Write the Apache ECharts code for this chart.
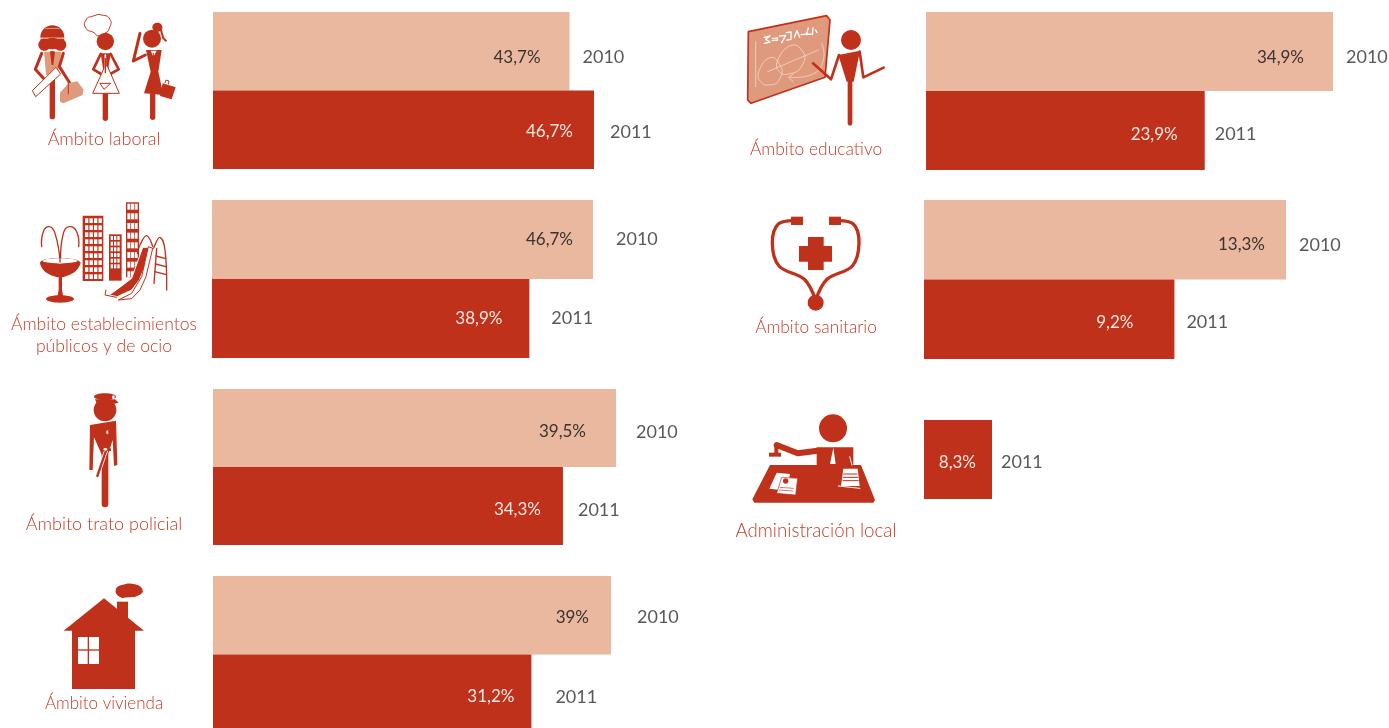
<!DOCTYPE html>
<html>
<head>
<meta charset="utf-8">
<title>Ámbitos</title>
<script src="https://cdn.jsdelivr.net/npm/echarts@6/dist/echarts.min.js"></script>
<style>
  html, body { margin: 0; padding: 0; background: #fff; }
  #chart { width: 1389px; height: 728px; }
</style>
</head>
<body>
<div id="chart"></div>
<script>
// datos
var years = ['2010', '2011'];
var yearsLocal = ['2011'];
var laboral = [43.7, 46.7];
var establecimientos = [46.7, 38.9];
var policial = [39.5, 34.3];
var vivienda = [39, 31.2];
var educativo = [34.9, 23.9];
var sanitario = [13.3, 9.2];
var local = [8.3];
var names = [
  'Ámbito laboral',
  'Ámbito establecimientos\npúblicos y de ocio',
  'Ámbito trato policial',
  'Ámbito vivienda',
  'Ámbito educativo',
  'Ámbito sanitario',
  'Administración local'
];

var DARK = '#BF311A';
var LIGHT = '#EAB79F';
var MID = '#DF9A7D';
var FONT = 'Lato';

// x,y,w,h del grid; inset = hueco del valor al final de la barra; gap = hueco del año; dy = ajuste vertical
var panels = [
  { cats: years, vals: laboral, x: 213, y: 12, w: 381, h: 157, inset: [29, 21], gap: [13, 16], dy: [6, 2], nx: 104, ny: 139, ns: 18 },
  { cats: years, vals: establecimientos, x: 212, y: 200, w: 381, h: 158, inset: [20, 27], gap: [23, 22], dy: [0, 0], nx: 104, ny: 335, ns: 17.6 },
  { cats: years, vals: policial, x: 213, y: 389, w: 403, h: 156, inset: [30, 22], gap: [20, 15], dy: [4, 4], nx: 104, ny: 524, ns: 18 },
  { cats: years, vals: vivienda, x: 213, y: 576, w: 398, h: 157, inset: [22, 17], gap: [26, 24], dy: [2, 3], nx: 104, ny: 704, ns: 17 },
  { cats: years, vals: educativo, x: 926, y: 12, w: 407, h: 158, inset: [29, 27], gap: [13, 10], dy: [6, 4], nx: 816, ny: 149, ns: 17.4 },
  { cats: years, vals: sanitario, x: 924, y: 200, w: 362, h: 159, inset: [21, 41], gap: [13, 12], dy: [5, 3], nx: 816, ny: 327, ns: 17.3 },
  { cats: yearsLocal, vals: local, x: 924, y: 420, w: 68, h: 79, inset: [16], gap: [9], dy: [3], nx: 816, ny: 531, ns: 18.7 }
];

function pct(v) {
  return String(v).replace('.', ',') + '%';
}

var grids = [], xAxes = [], yAxes = [], series = [], graphics = [];

for (var i = 0; i < panels.length; i++) {
  var p = panels[i];
  grids.push({ left: p.x, top: p.y, width: p.w, height: p.h, outerBoundsMode: 'none' });
  xAxes.push({ gridIndex: i, type: 'value', min: 0, max: Math.max.apply(null, p.vals), show: false });
  yAxes.push({ gridIndex: i, type: 'category', data: p.cats, inverse: true, show: false });

  var barData = [], yearData = [];
  for (var j = 0; j < p.vals.length; j++) {
    var dark = p.cats[j] === '2011';
    barData.push({
      value: p.vals[j],
      itemStyle: { color: dark ? DARK : LIGHT },
      label: {
        show: true,
        position: 'insideRight',
        distance: p.inset[j],
        offset: [0, p.dy[j]],
        formatter: pct(p.vals[j]),
        color: dark ? '#FBE9E2' : '#3A3330',
        fontFamily: FONT,
        fontSize: 17
      }
    });
    yearData.push({
      value: [p.vals[j], j],
      label: {
        show: true,
        position: 'right',
        distance: p.gap[j],
        offset: [0, p.dy[j]],
        formatter: p.cats[j],
        color: '#2E2E2E',
        fontFamily: FONT,
        fontSize: 18
      }
    });
  }
  series.push({
    type: 'bar',
    xAxisIndex: i,
    yAxisIndex: i,
    barWidth: '100%',
    silent: true,
    data: barData
  });
  series.push({
    type: 'scatter',
    xAxisIndex: i,
    yAxisIndex: i,
    symbolSize: 0,
    silent: true,
    data: yearData
  });
  graphics.push({
    type: 'text',
    x: p.nx,
    y: p.ny,
    style: {
      text: names[i],
      fill: '#C43B26',
      font: '300 ' + p.ns + 'px ' + FONT,
      textAlign: 'center',
      textVerticalAlign: 'middle',
      lineHeight: 22
    }
  });
}

// ---- iconos ----
function line(pts, w, color, smooth) {
  return {
    type: 'polyline',
    shape: { points: pts, smooth: smooth || 0 },
    style: { stroke: color || DARK, lineWidth: w, fill: null, lineCap: 'round', lineJoin: 'round' }
  };
}
function poly(pts, fill, stroke, w, smooth) {
  return {
    type: 'polygon',
    shape: { points: pts, smooth: smooth || 0 },
    style: { fill: fill || DARK, stroke: stroke || null, lineWidth: w || 0, lineJoin: 'round' }
  };
}
function circle(cx, cy, r, fill) {
  return { type: 'circle', shape: { cx: cx, cy: cy, r: r }, style: { fill: fill || DARK } };
}
function ell(cx, cy, rx, ry, fill, stroke, w) {
  return {
    type: 'ellipse',
    shape: { cx: cx, cy: cy, rx: rx, ry: ry },
    style: { fill: fill || DARK, stroke: stroke || null, lineWidth: w || 0 }
  };
}
function box(x, y, w, h, fill) {
  return { type: 'rect', shape: { x: x, y: y, width: w, height: h }, style: { fill: fill || DARK } };
}
// los iconos se dibujan en las coordenadas del recorte x3
function icon(ox, oy, children) {
  graphics.push({ type: 'group', x: ox, y: oy, scaleX: 1 / 3, scaleY: 1 / 3, silent: true, children: children });
}

function windows(list, x0, y0, cols, rows, cw, ch, dx, dy) {
  for (var r = 0; r < rows; r++) {
    for (var c = 0; c < cols; c++) {
      list.push(box(x0 + c * dx, y0 + r * dy, cw, ch, '#fff'));
    }
  }
}

// laboral
icon(0, 0, [
  // obrero
  line([[157, 160], [157, 350]], 16),
  poly([[132, 155], [185, 155], [172, 225], [138, 225]], MID),
  poly([[150, 155], [165, 155], [160, 195], [155, 195]], DARK),
  line([[125, 160], [106, 208], [135, 240]], 9),
  line([[190, 160], [178, 200], [213, 255]], 9),
  ell(157, 112, 36, 36),
  box(135, 84, 44, 2, '#EAB79F'),
  box(120, 113, 76, 3, '#fff'),
  ell(133, 134, 18, 18),
  ell(181, 134, 18, 18),
  ell(157, 130, 32, 16),
  poly([[97, 272], [168, 202], [182, 222], [107, 290]], '#fff', DARK, 3),
  poly([[180, 278], [205, 250], [232, 244], [250, 268], [248, 285], [190, 310], [180, 305]], MID),
  line([[205, 250], [205, 282]], 3, DARK),
  // cocinera
  line([[316, 280], [316, 355]], 16),
  poly([[282, 98], [258, 85], [258, 60], [280, 48], [305, 45], [330, 58], [328, 85], [315, 100], [295, 108]], '#fff', DARK, 3, 0.6),
  circle(316, 124, 26),
  poly([[302, 160], [332, 160], [322, 225], [312, 225]], DARK),
  line([[302, 162], [280, 208], [308, 225]], 8),
  line([[332, 162], [356, 208], [325, 225]], 8),
  poly([[315, 198], [278, 280], [358, 280], [322, 198]], '#fff', DARK, 3),
  line([[300, 250], [312, 268], [332, 250], [300, 250]], 3),
  line([[316, 165], [316, 222]], 5, '#fff'),
  line([[316, 175], [316, 218]], 4, DARK),
  // ejecutiva
  line([[458, 285], [458, 352]], 16),
  circle(456, 116, 27),
  ell(472, 82, 15, 14),
  line([[482, 88], [490, 115], [498, 122]], 6),
  line([[420, 100], [400, 183], [436, 165]], 9),
  poly([[438, 150], [485, 150], [475, 215], [490, 285], [432, 280], [452, 215]], DARK),
  poly([[452, 152], [470, 152], [460, 170]], '#fff'),
  line([[460, 160], [460, 190]], 3, DARK),
  poly([[488, 250], [527, 262], [515, 298], [480, 288]], DARK),
  line([[495, 248], [498, 240], [507, 243], [505, 252]], 3)
]);

// establecimientos
var est = [
  // fuente
  line([[180, 212], [165, 130], [148, 110], [130, 125], [125, 170]], 4, DARK, 0.5),
  line([[182, 212], [190, 130], [208, 110], [230, 125], [236, 170]], 4, DARK, 0.5),
  poly([[122, 215], [135, 245], [180, 262], [225, 245], [240, 215]], DARK, null, 0, 0.3),
  ell(180, 216, 58, 12, DARK),
  ell(180, 213, 52, 8, '#fff'),
  poly([[130, 216], [180, 222], [232, 216], [225, 228], [135, 228]], DARK),
  line([[180, 195], [180, 216]], 4, DARK),
  poly([[176, 258], [186, 258], [186, 300], [190, 322], [172, 322], [176, 300]], DARK),
  ell(180, 327, 42, 11),
  // edificios
  box(248, 77, 62, 196)
];
windows(est, 255, 85, 4, 9, 10, 14, 13.5, 21);
est.push(box(327, 133, 38, 139));
windows(est, 332, 138, 3, 6, 7, 12, 10, 17);
est.push(box(378, 37, 39, 225));
for (var b = 0; b < 8; b++) {
  est.push(box(382, 41 + b * 29, 9, 18, '#fff'));
  est.push(box(393, 41 + b * 29, 9, 18, '#fff'));
  est.push(box(404, 41 + b * 29, 9, 18, '#fff'));
}
est.push(
  // tobogan
  line([[460, 175], [440, 137], [420, 165], [412, 190]], 4, DARK, 0.4),
  line([[462, 172], [480, 142], [495, 180], [500, 300]], 4, DARK, 0.4),
  line([[470, 175], [462, 280]], 4),
  line([[468, 198], [497, 206]], 4),
  line([[466, 222], [498, 230]], 4),
  line([[464, 245], [499, 254]], 4),
  poly([[428, 172], [458, 172], [418, 270], [395, 300], [352, 320], [328, 315], [365, 288], [395, 265]], DARK, '#fff', 3),
  poly([[445, 170], [425, 260], [395, 310], [355, 330], [395, 326], [420, 300], [438, 260], [458, 175]], '#fff', DARK, 3),
  line([[318, 300], [315, 315], [350, 322]], 3)
);
icon(0, 190, est);

// policial
icon(0, 380, [
  line([[315, 225], [315, 372]], 20),
  circle(315, 90, 34),
  ell(315, 50, 33, 10),
  poly([[285, 58], [345, 58], [356, 68], [340, 72], [290, 70]], DARK),
  ell(340, 52, 4, 6, '#fff'),
  poly([[270, 135], [348, 122], [352, 255], [342, 258], [338, 180], [322, 230], [308, 230], [282, 172], [278, 270], [268, 270]], DARK),
  ell(322, 157, 3, 6, '#fff'),
  line([[318, 212], [292, 288]], 12, '#fff'),
  line([[318, 212], [292, 288]], 7, DARK),
  box(305, 205, 28, 8, DARK),
  ell(316, 208, 6, 4, '#fff')
]);

// vivienda
icon(0, 380, [
  box(351, 665, 33, 60),
  poly([[191, 752], [312, 655], [432, 752]], DARK),
  box(216, 750, 189, 177),
  box(234, 771, 63, 81, '#fff'),
  box(263, 771, 4, 81),
  box(234, 808, 63, 4),
  poly([[347, 630], [365, 615], [405, 613], [428, 630], [418, 645], [385, 652], [358, 650]], DARK, null, 0, 0.5)
]);

// educativo
icon(725, 0, [
  poly([[70, 95], [305, 47], [315, 60], [300, 232], [78, 310], [68, 300]], MID, DARK, 5),
  line([[92, 125], [92, 260]], 2, '#F8E4D8'),
  line([[118, 112], [135, 108], [122, 118], [135, 126], [118, 130]], 4, '#fff'),
  line([[142, 116], [158, 114]], 4, '#fff'),
  line([[142, 122], [158, 120]], 4, '#fff'),
  line([[164, 108], [182, 106], [170, 128]], 4, '#fff'),
  line([[184, 98], [198, 96], [198, 118], [186, 120]], 4, '#fff'),
  line([[208, 112], [216, 92], [224, 112]], 4, '#fff'),
  line([[228, 104], [248, 102]], 4, '#fff'),
  line([[250, 84], [244, 104], [258, 102]], 4, '#fff'),
  line([[264, 84], [262, 104]], 4, '#fff'),
  line([[272, 90], [276, 98]], 4, '#fff'),
  line([[128, 215], [280, 150]], 2, '#F8E4D8'),
  line([[100, 220], [130, 175], [162, 190], [165, 235], [130, 255], [103, 240], [100, 220]], 2, '#F8E4D8', 0.6),
  line([[155, 190], [190, 140], [230, 150], [232, 195], [190, 222], [160, 212], [155, 190]], 2, '#F8E4D8', 0.6),
  line([[290, 130], [296, 175], [268, 220], [195, 232]], 2, '#F8E4D8', 0.5),
  line([[205, 222], [190, 232], [205, 245]], 2, '#F8E4D8'),
  line([[375, 235], [375, 370]], 14),
  circle(378, 120, 30),
  poly([[340, 165], [405, 152], [386, 245], [365, 245]], DARK),
  line([[342, 165], [318, 238], [264, 190]], 8),
  line([[404, 155], [415, 232], [476, 203]], 8)
]);

// sanitario
icon(725, 200, [
  line([[215, 62], [160, 72], [142, 130], [162, 198], [238, 238], [272, 300]], 10, DARK, 0.35),
  line([[330, 62], [385, 72], [402, 130], [382, 198], [306, 238], [272, 300]], 10, DARK, 0.35),
  box(198, 50, 36, 25),
  box(312, 50, 36, 25),
  box(222, 138, 99, 47),
  box(249, 111, 47, 99),
  circle(272, 308, 24)
]);

// administracion local
icon(725, 400, [
  circle(324, 85, 42),
  box(275, 142, 110, 60),
  poly([[135, 195], [408, 195], [450, 300], [445, 308], [88, 308], [82, 298]], DARK),
  poly([[325, 143], [332, 192], [315, 192]], '#fff'),
  line([[374, 170], [381, 195]], 3, '#fff'),
  line([[278, 152], [218, 160], [155, 135]], 18),
  box(148, 135, 12, 26),
  box(132, 158, 36, 12),
  poly([[155, 218], [195, 222], [185, 272], [133, 266]], '#fff'),
  poly([[170, 232], [218, 235], [212, 285], [155, 280]], '#fff', DARK, 2),
  circle(182, 243, 8),
  line([[165, 262], [205, 265]], 2),
  line([[163, 270], [203, 273]], 2),
  poly([[355, 206], [398, 206], [404, 258], [348, 258]], '#fff'),
  line([[356, 222], [396, 222]], 3),
  line([[355, 232], [398, 232]], 3),
  line([[354, 242], [400, 242]], 3),
  line([[340, 258], [405, 265]], 3, '#fff')
]);

var chart = echarts.init(document.getElementById('chart'), null, { renderer: 'canvas' });
chart.setOption({
  animation: false,
  backgroundColor: '#fff',
  tooltip: { show: false },
  grid: grids,
  xAxis: xAxes,
  yAxis: yAxes,
  series: series,
  graphic: { elements: graphics }
});
</script>
</body>
</html>
